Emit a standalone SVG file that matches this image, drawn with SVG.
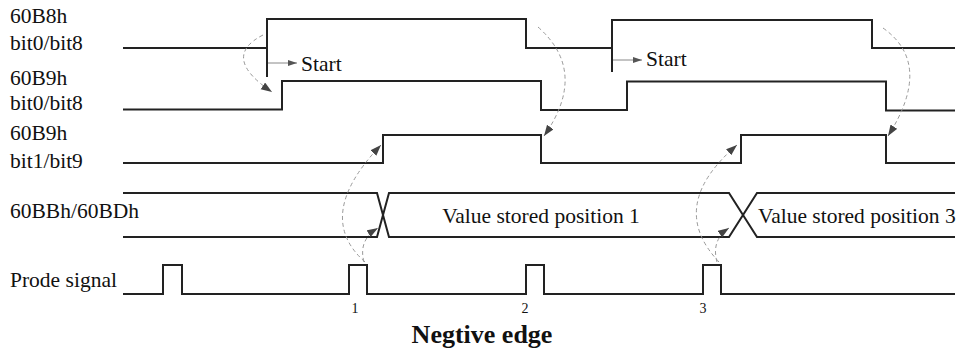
<svg xmlns="http://www.w3.org/2000/svg" width="958" height="354" viewBox="0 0 958 354">
<style>
.sig{fill:none;stroke:#222;stroke-width:2;stroke-linejoin:miter}
.lbl{font-family:"Liberation Serif","Times New Roman",serif;font-size:21.5px;fill:#111}
.num{font-family:"Liberation Serif","Times New Roman",serif;font-size:14px;fill:#111}
.dash{fill:none;stroke:#999;stroke-width:1;stroke-dasharray:4 3}
.st{fill:none;stroke:#888;stroke-width:1}
</style>
<defs>
<marker id="ah" markerUnits="userSpaceOnUse" markerWidth="12" markerHeight="9" refX="11" refY="4" orient="auto">
<path d="M0,0 L11,4 L0,8 z" fill="#444"/>
</marker>
<marker id="sh" markerUnits="userSpaceOnUse" markerWidth="10" markerHeight="7" refX="9" refY="3" orient="auto">
<path d="M0,0 L9,3 L0,6 z" fill="#555"/>
</marker>
</defs>
<rect width="958" height="354" fill="#fff"/>
<g id="sig-60B8h-bit0">
<text class="lbl" x="10" y="23">60B8h</text>
<text class="lbl" x="10" y="50">bit0/bit8</text>
<path class="sig" d="M123,48 H267 V19 H526 V48 H612 V20 H872 V48 H955"/>
<path class="sig" d="M267,48 V77 M612,48 V72"/>
</g>
<g id="sig-60B9h-bit0">
<text class="lbl" x="10" y="85">60B9h</text>
<text class="lbl" x="10" y="110">bit0/bit8</text>
<path class="sig" d="M123,109.5 H282 V81 H541 V110 H627 V81.5 H886 V110.5 H955"/>
</g>
<g id="sig-60B9h-bit1">
<text class="lbl" x="10" y="140">60B9h</text>
<text class="lbl" x="10" y="168">bit1/bit9</text>
<path class="sig" d="M123,163 H383 V135 H541 V163 H741 V135 H886 V163 H955"/>
</g>
<g id="sig-60BBh-60BDh">
<text class="lbl" x="10" y="218">60BBh/60BDh</text>
<path class="sig" d="M123,193 H377 L389,237 H729 L757,193 H955"/>
<path class="sig" d="M123,237 H377 L389,193 H729 L757,237 H955"/>
<text class="lbl" x="541" y="223" text-anchor="middle">Value stored position 1</text>
<text class="lbl" x="758" y="223">Value stored position 3</text>
</g>
<g id="sig-prode">
<text class="lbl" x="10" y="287">Prode signal</text>
<path class="sig" d="M123,294 H163 V265 H182 V294 H349 V265 H367 V294 H526 V265 H544 V294 H703 V265 H721 V294 H955"/>
<text class="num" x="355" y="313" text-anchor="middle">1</text>
<text class="num" x="525" y="313" text-anchor="middle">2</text>
<text class="num" x="703" y="313" text-anchor="middle">3</text>
</g>
<g id="start-1">
<path class="st" d="M268,63 H297" marker-end="url(#sh)"/>
<text class="lbl" x="301" y="71">Start</text>
</g>
<g id="start-2">
<path class="st" d="M613,60 H642" marker-end="url(#sh)"/>
<text class="lbl" x="646" y="66">Start</text>
</g>
<g id="connectors">
<path class="dash" d="M263,35 Q220,57 272,92" marker-end="url(#ah)"/>
<path class="dash" d="M538,27 Q589,72 544,136" marker-end="url(#ah)"/>
<path class="dash" d="M883,28 Q934,64 888,136" marker-end="url(#ah)"/>
<path class="dash" d="M365,262 Q313,216 381,145" marker-end="url(#ah)"/>
<path class="dash" d="M364,262 Q358,240 378,228" marker-end="url(#ah)"/>
<path class="dash" d="M719,262 Q666,206 737,145" marker-end="url(#ah)"/>
<path class="dash" d="M717,262 Q711,240 729,228" marker-end="url(#ah)"/>
</g>
<text x="482" y="343" text-anchor="middle" style="font-family:'Liberation Serif','Times New Roman',serif;font-size:26px;font-weight:bold;fill:#111">Negtive edge</text>
</svg>
